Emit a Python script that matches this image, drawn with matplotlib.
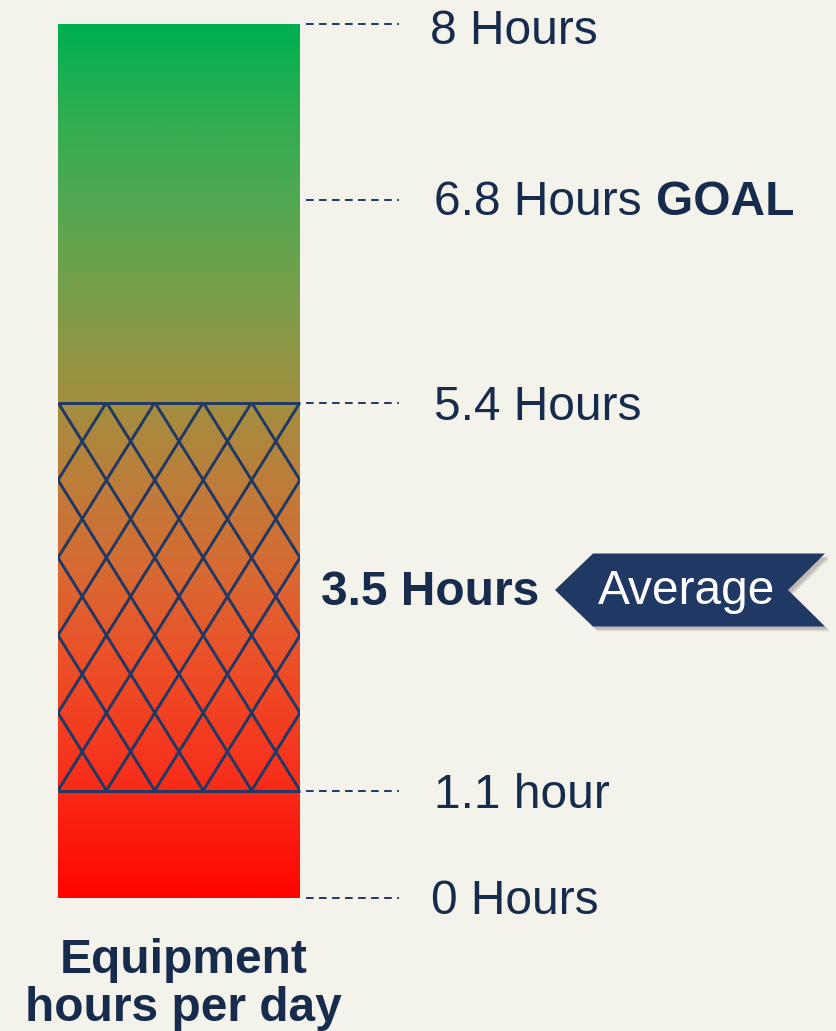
import numpy as np
import matplotlib
matplotlib.use("Agg")
import matplotlib.pyplot as plt
from matplotlib.colors import LinearSegmentedColormap
from matplotlib.patches import Polygon, Rectangle

# ---------------- data ----------------
level_hours = [8, 6.8, 5.4, 1.1, 0]
level_labels = ["8 Hours", "6.8 Hours", "5.4 Hours", "1.1 hour", "0 Hours"]
goal_hours = 6.8
goal_tag = "GOAL"
range_low, range_high = 1.1, 5.4
average_hours = 3.5
average_label = "3.5 Hours"
average_tag = "Average"
axis_title = ["Equipment", "hours per day"]
bar_max = 8

# ---------------- layout / style ----------------
W, H, DPI = 836, 1031, 100
bar_left, bar_right, bar_top, bar_bottom = 58, 300, 24, 898
# the reference uses a non-linear vertical scale: knots (hours -> pixel row)
scale_hours = [0, 1.1, 3.5, 5.4, 6.8, 8]
scale_rows = [898, 790.5, 590, 402.5, 200, 24]
label_x = [430, 434, 434, 434, 431]
label_base_off = [20, 15, 17, 17, 16]
dash_x0, dash_x1 = 306, 399
FS = 34.5
TXT = "#172B4D"
NAVY = "#1F3864"
BG = "#F3F2EB"
FONT = "Liberation Sans"

grad_stops = [(0.00, "#00B050"), (0.10, "#2DAE52"), (0.20, "#52A852"),
              (0.30, "#769F4B"), (0.43, "#A18F3F"), (0.52, "#BC7E3B"),
              (0.62, "#D66B33"), (0.72, "#EB5229"), (0.85, "#F6331D"),
              (1.00, "#FF0500")]

plt.rcParams['font.family'] = [FONT, 'DejaVu Sans']

fig = plt.figure(figsize=(W / DPI, H / DPI), dpi=DPI, facecolor=BG)
ax = fig.add_axes([bar_left / W, (H - bar_bottom) / H,
                   (bar_right - bar_left) / W, (bar_bottom - bar_top) / H])
ax.set_facecolor("none")

_pos = bar_bottom - np.array(scale_rows, dtype=float)


def fwd(h):
    return np.interp(h, scale_hours, _pos)


def inv(p):
    return np.interp(p, _pos, scale_hours)


ax.set_yscale('function', functions=(fwd, inv))
ax.set_xlim(0, 1)
ax.set_ylim(0, bar_max)
ax.axis('off')

# bar with gradient fill
bars = ax.bar(0.5, bar_max, width=1, bottom=0, color="none", edgecolor="none")
cmap = LinearSegmentedColormap.from_list("g2r", grad_stops)
grad = cmap(np.linspace(0, 1, 512))[:, None, :3]
im = ax.imshow(grad, extent=(0, 1, 0, 1), transform=ax.transAxes,
               aspect='auto', origin='upper', zorder=1)
im.set_clip_path(bars.patches[0])


def row(h):
    """pixel row (from top) of an hour value via the axis scale"""
    return H - ax.transData.transform((0.5, h))[1]


# overlay in pixel coordinates
ov = fig.add_axes([0, 0, 1, 1], zorder=5)
ov.set_xlim(0, W)
ov.set_ylim(H, 0)
ov.axis('off')
ov.patch.set_visible(False)

# lattice over the actual range
r_hi, r_lo = row(range_high), row(range_low)
n_across, n_half = 5, 10
dx = (bar_right - bar_left) / (2 * n_across)
clip = Rectangle((bar_left, r_hi), bar_right - bar_left, r_lo - r_hi,
                 transform=ov.transData, facecolor="none", edgecolor="none")
ov.add_patch(clip)
for k in range(-n_across, 2 * n_across + 1):
    xs = bar_left + 2 * k * dx
    for sgn in (1, -1):
        ln, = ov.plot([xs, xs + sgn * n_half * dx], [r_hi, r_lo],
                      color=NAVY, lw=2.1, solid_capstyle='round')
        ln.set_clip_path(clip)
ov.hlines([r_hi, r_lo], bar_left, bar_right, color=NAVY, lw=2.1)

# dashed leaders and labels
for h, lab, lx, off in zip(level_hours, level_labels, label_x, label_base_off):
    r = row(h)
    ov.plot([dash_x0, dash_x1], [r, r], color=NAVY, lw=1.4,
            linestyle=(0, (3.9, 2.8)), solid_capstyle='butt',
            dash_capstyle='butt')
    t = ov.text(lx, r + off, lab, fontsize=FS, color=TXT, va='baseline',
                ha='left')
    if h == goal_hours:
        fig.canvas.draw()
        bb = t.get_window_extent(fig.canvas.get_renderer())
        ov.text(bb.x1 + 14.5, r + off, goal_tag, fontsize=FS, color=TXT,
                fontweight='bold', va='baseline', ha='left')

# average label and arrow tag
ra = row(average_hours)
ov.text(321, ra + 15, average_label, fontsize=FS, color=TXT,
        fontweight='bold', va='baseline', ha='left')
half = 36.5
shape = np.array([[555, 0], [593, -half], [825, -half], [788, 0],
                  [825, half], [593, half]], dtype=float)
for o, a in [(5, 0.08), (4, 0.12), (3, 0.18)]:
    sh = shape + [o, o]
    sh[:, 1] += ra
    ov.add_patch(Polygon(sh, closed=True, facecolor="#555555", alpha=a,
                         edgecolor="none"))
main = shape.copy()
main[:, 1] += ra
ov.add_patch(Polygon(main, closed=True, facecolor=NAVY, edgecolor="none"))
ov.text(687, ra + 14.5, average_tag, fontsize=FS, color="white",
        va='baseline', ha='center')

# axis title under the bar
ov.text(183.5, 973, axis_title[0], fontsize=FS, color=TXT,
        fontweight='bold', ha='center', va='baseline')
ov.text(183.5, 1021, axis_title[1], fontsize=FS, color=TXT,
        fontweight='bold', ha='center', va='baseline')

fig.savefig("out.png", dpi=DPI, facecolor=BG)
